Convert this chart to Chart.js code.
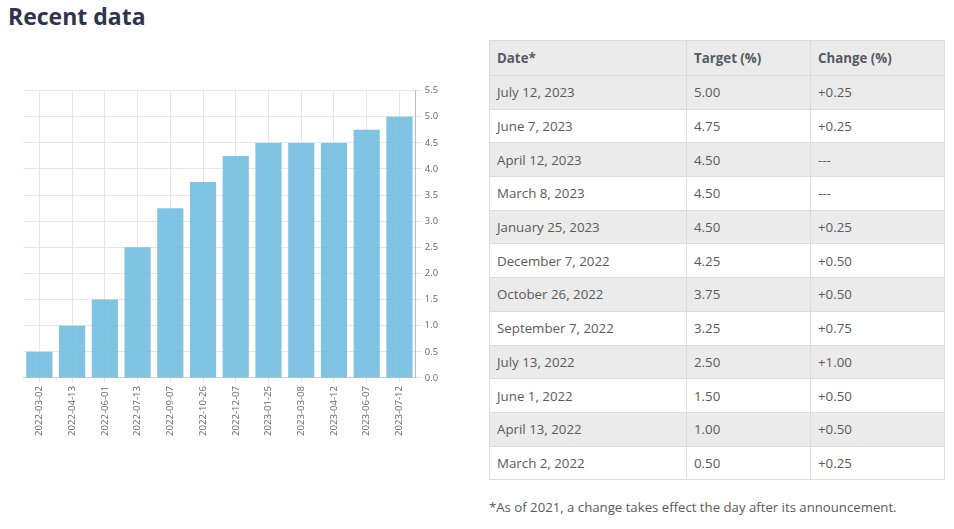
<!DOCTYPE html>
<html>
<head>
<meta charset="utf-8">
<script src="https://cdn.jsdelivr.net/npm/chart.js@4"></script>
<style>
  html, body { margin: 0; padding: 0; background: #fff; width: 954px; height: 529px; overflow: hidden; font-family: "Open Sans", sans-serif; }
  h2 { position: absolute; left: 8px; top: 0px; margin: 0; font-size: 23px; font-weight: 700; color: #2f3350; line-height: 32px; }
  #chartBox { position: absolute; left: 23px; top: 82px; width: 418px; height: 357px; }
  table { position: absolute; left: 489px; top: 40px; width: 456px; border-collapse: collapse; font-size: 13.3px; color: #5a5a5a; }
  th, td { border: 1px solid #dcdcdc; text-align: left; padding: 0 7px; line-height: 18px; }
  tbody tr { height: 33.7px; }
  thead tr { height: 35px; }
  th { font-weight: 700; color: #555a62; background: #ebebeb; }
  tbody tr:nth-child(odd) td { background: #ebebeb; }
  tbody tr:nth-child(even) td { background: #fff; }
  .note { position: absolute; left: 489px; top: 498px; font-size: 13.2px; color: #5a5a5a; }
</style>
</head>
<body>
<h2>Recent data</h2>
<div id="chartBox"><canvas id="c"></canvas></div>
<table id="tbl"><thead><tr><th style="width:182px">Date*</th><th style="width:109px">Target (%)</th><th>Change (%)</th></tr></thead><tbody></tbody></table>
<div class="note">*As of 2021, a change takes effect the day after its announcement.</div>
<script>
const categories = ["2022-03-02","2022-04-13","2022-06-01","2022-07-13","2022-09-07","2022-10-26","2022-12-07","2023-01-25","2023-03-08","2023-04-12","2023-06-07","2023-07-12"];
const targets = [0.50, 1.00, 1.50, 2.50, 3.25, 3.75, 4.25, 4.50, 4.50, 4.50, 4.75, 5.00];
const tableDates = ["July 12, 2023","June 7, 2023","April 12, 2023","March 8, 2023","January 25, 2023","December 7, 2022","October 26, 2022","September 7, 2022","July 13, 2022","June 1, 2022","April 13, 2022","March 2, 2022"];
const tableTargets = ["5.00","4.75","4.50","4.50","4.50","4.25","3.75","3.25","2.50","1.50","1.00","0.50"];
const tableChanges = ["+0.25","+0.25","---","---","+0.25","+0.50","+0.50","+0.75","+1.00","+0.50","+0.50","+0.25"];
const yTicks = [0,0.5,1,1.5,2,2.5,3,3.5,4,4.5,5,5.5];

const tb = document.querySelector('#tbl tbody');
tableDates.forEach((d, i) => {
  const tr = document.createElement('tr');
  [d, tableTargets[i], tableChanges[i]].forEach(v => { const td = document.createElement('td'); td.textContent = v; tr.appendChild(td); });
  tb.appendChild(tr);
});

new Chart(document.getElementById('c'), {
  type: 'bar',
  data: {
    labels: categories,
    datasets: [{
      data: targets,
      backgroundColor: 'rgba(106,184,222,0.85)',
      borderWidth: 0,
      barPercentage: 0.8,
      categoryPercentage: 1.0
    }]
  },
  options: {
    responsive: true,
    maintainAspectRatio: false,
    animation: false,
    layout: { padding: 0 },
    plugins: { legend: { display: false }, tooltip: { enabled: false } },
    scales: {
      x: {
        grid: { offset: false, color: '#e6e6e6', drawTicks: true, tickLength: 5 },
        border: { color: '#cccccc' },
        ticks: { minRotation: 90, maxRotation: 90, color: '#666', font: { family: 'Open Sans', size: 9.6 }, autoSkip: false }
      },
      y: {
        position: 'right',
        min: 0, max: 5.5,
        afterBuildTicks: (s) => { s.ticks = yTicks.map(v => ({ value: v })); },
        grid: { color: '#e6e6e6', tickLength: 6 },
        border: { color: '#bbbbbb' },
        ticks: { color: '#666', font: { family: 'Open Sans', size: 9.4 }, callback: (v) => Number(v).toFixed(1) }
      }
    }
  }
});
</script>
</body>
</html>
